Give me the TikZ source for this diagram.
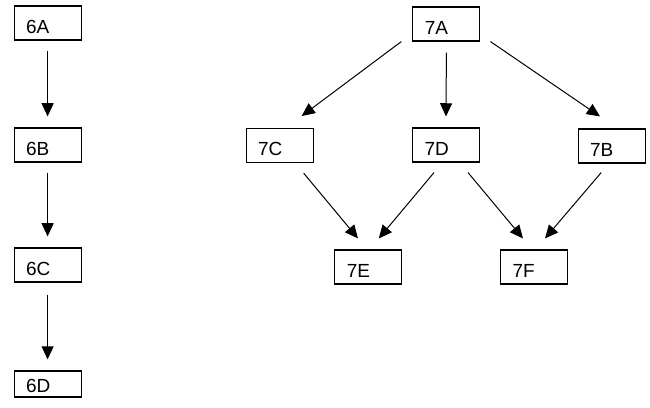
\documentclass[tikz,border=0pt]{standalone}
\usepackage{fontspec}
\setmainfont{Liberation Sans}
\usetikzlibrary{arrows.meta}

\tikzset{
  blk/.style={rectangle, draw, line width=0.028cm, minimum width=1.675cm, minimum height=0.85cm, text width=1.075cm, inner xsep=0.3cm, inner ysep=1pt, align=left, text height=0.5cm, text depth=0cm, font=\fontsize{13.5}{15}\selectfont},
  link/.style={-{Triangle[length=0.33cm,width=0.3cm]}, line width=0.025cm},
}

\begin{document}
\begin{tikzpicture}
\useasboundingbox (0,0) rectangle (16.25,-10.175);
% left chain
\node[blk] (a6) at (1.19,-0.575) {6A};
\node[blk] (b6) at (1.19,-3.625) {6B};
\node[blk] (c6) at (1.19,-6.625) {6C};
\node[blk, minimum height=0.65cm, text height=0.42cm] (d6) at (1.19,-9.6) {6D};
\draw[link, shorten <=0.25cm, shorten >=0.275cm] (a6) -- (b6);
\draw[link, shorten <=0.25cm, shorten >=0.275cm] (b6) -- (c6);
\draw[link, shorten <=0.3cm, shorten >=0.275cm] (c6) -- (d6);
% right tree
\node[blk] (a7) at (11.16,-0.6) {7A};
\node[blk] (c7) at (6.99,-3.64) {7C};
\node[blk] (d7) at (11.15,-3.625) {7D};
\node[blk] (b7) at (15.29,-3.65) {7B};
\node[blk] (e7) at (9.21,-6.675) {7E};
\node[blk] (f7) at (13.35,-6.675) {7F};
\draw[link] ([xshift=-0.275cm]a7.south west) -- ([shift={(-0.3cm,0.3cm)}]c7.north east);
\draw[link] ([yshift=-0.275cm]a7.south) -- ([yshift=0.275cm]d7.north);
\draw[link] ([xshift=0.25cm]a7.south east) -- ([shift={(-0.29cm,0.3cm)}]b7.north);
\draw[link] ([shift={(-0.25cm,-0.25cm)}]c7.south east) -- ([shift={(-0.26cm,0.275cm)}]e7.north);
\draw[link] ([shift={(-0.3cm,-0.25cm)}]d7.south) -- ([shift={(0.26cm,0.275cm)}]e7.north);
\draw[link] ([shift={(0.55cm,-0.25cm)}]d7.south) -- ([shift={(-0.275cm,0.275cm)}]f7.north);
\draw[link] ([shift={(-0.26cm,-0.225cm)}]b7.south) -- ([shift={(0.275cm,0.275cm)}]f7.north);
\end{tikzpicture}
\end{document}
